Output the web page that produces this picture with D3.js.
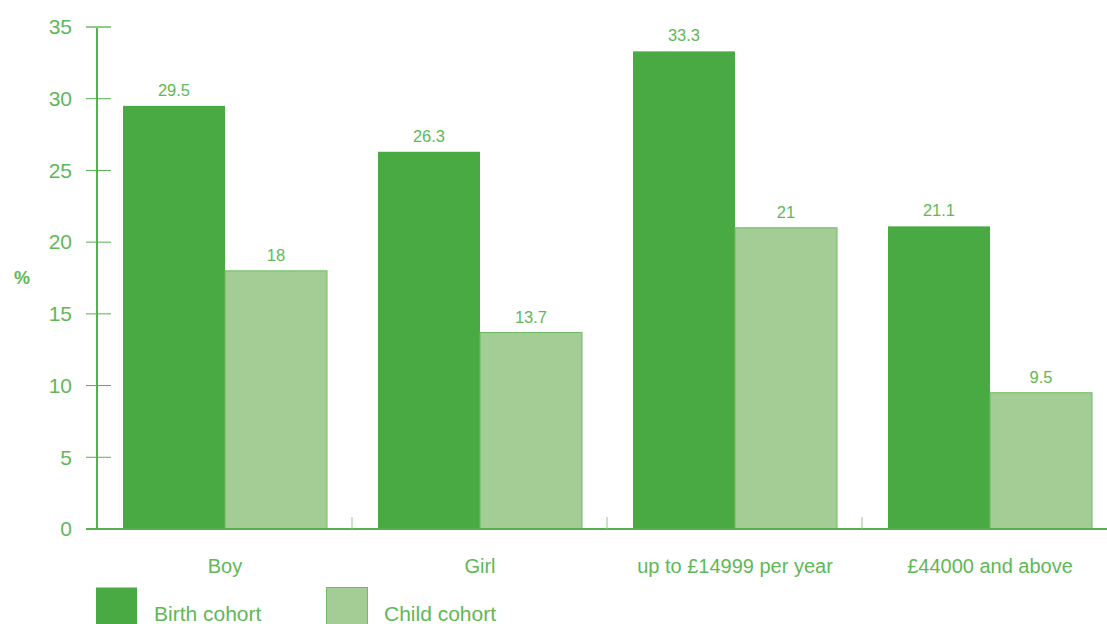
<!DOCTYPE html>
<html><head><meta charset="utf-8">
<script src="https://cdnjs.cloudflare.com/ajax/libs/d3/7.8.5/d3.min.js"></script>
<style>body{margin:0;background:#fff}svg{display:block}text{font-family:"Liberation Sans",Arial,sans-serif}</style>
</head><body>
<script>
const categories = ["Boy", "Girl", "up to £14999 per year", "£44000 and above"];
const seriesNames = ["Birth cohort", "Child cohort"];
const birthValues = [29.5, 26.3, 33.3, 21.1];
const childValues = [18, 13.7, 21, 9.5];
const yTicks = [0, 5, 10, 15, 20, 25, 30, 35];

const W = 1107, H = 624;
const colors = ["#49a942", "#a3cd95"];
const textColor = "#5fb857";
const axisColor = "#55b04f";

const svg = d3.select("body").append("svg").attr("width", W).attr("height", H);

const y = d3.scaleLinear().domain([0, 35]).range([529, 27]);
const x0 = d3.scaleBand().domain(categories).range([97, 1117]).paddingInner(0).paddingOuter(0);
const x1 = d3.scaleBand().domain(seriesNames).range([26, 26 + 204]);

const data = categories.map((c, i) => ({cat: c, vals: [birthValues[i], childValues[i]]}));

// bars
const g = svg.append("g");
data.forEach(d => {
  d.vals.forEach((v, j) => {
    const bx = x0(d.cat) + x1(seriesNames[j]);
    g.append("rect")
      .attr("x", bx).attr("y", y(v))
      .attr("width", x1.bandwidth()).attr("height", y(0) - y(v))
      .attr("fill", colors[j])
      .attr("stroke", j === 1 ? "#6dbb62" : "none").attr("stroke-width", 1);
    g.append("text")
      .attr("x", bx + x1.bandwidth() / 2).attr("y", y(v) - 10)
      .attr("text-anchor", "middle").attr("font-size", 16.5)
      .attr("fill", textColor).text(v);
  });
});

// y axis
svg.append("line").attr("x1", 97).attr("x2", 97).attr("y1", y(35)).attr("y2", y(0))
  .attr("stroke", axisColor).attr("stroke-width", 2);
yTicks.forEach(t => {
  svg.append("line").attr("x1", 86).attr("x2", 111).attr("y1", y(t)).attr("y2", y(t))
    .attr("stroke", t === 35 ? "#8fcb87" : axisColor).attr("stroke-width", t === 35 ? 2 : 1);
  svg.append("text").attr("x", 72).attr("y", y(t)).attr("dy", "0.35em")
    .attr("text-anchor", "end").attr("font-size", 21).attr("fill", textColor).text(t);
});

// x axis
svg.append("line").attr("x1", 86).attr("x2", W).attr("y1", y(0)).attr("y2", y(0))
  .attr("stroke", axisColor).attr("stroke-width", 2);
categories.slice(1).forEach(c => {
  svg.append("line").attr("x1", x0(c)).attr("x2", x0(c)).attr("y1", y(0) - 12).attr("y2", y(0))
    .attr("stroke", "#8fcb87").attr("stroke-width", 1);
});
categories.forEach(c => {
  svg.append("text").attr("x", x0(c) + 26 + 102).attr("y", 573)
    .attr("text-anchor", "middle").attr("font-size", 20).attr("fill", textColor).text(c);
});

// y label
svg.append("text").attr("x", 22).attr("y", 284).attr("text-anchor", "middle")
  .attr("font-size", 18).attr("font-weight", "bold").attr("fill", textColor).text("%");

// legend
const legX = [96, 326];
seriesNames.forEach((s, j) => {
  svg.append("rect").attr("x", legX[j] + (j ? 0.5 : 0)).attr("y", 587.5).attr("width", 41).attr("height", 42)
    .attr("fill", colors[j]).attr("stroke", j === 1 ? "#6dbb62" : "none");
  svg.append("text").attr("x", legX[j] + 58).attr("y", 621).attr("font-size", 21)
    .attr("fill", textColor).text(s);
});
</script>
</body></html>
